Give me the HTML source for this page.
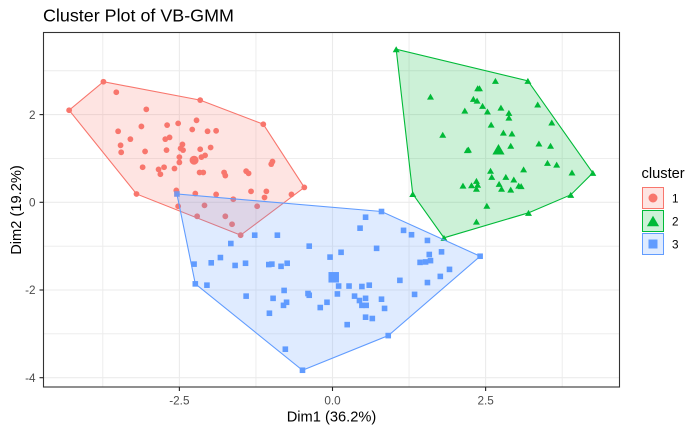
<!DOCTYPE html>
<html>
<head>
<meta charset="utf-8">
<title>Cluster Plot of VB-GMM</title>
<style>
html,body{margin:0;padding:0;background:#fff;}
svg{display:block;font-family:"Liberation Sans",sans-serif;}
</style>
</head>
<body>
<svg id="chart" width="700" height="432" viewBox="0 0 700 432" xmlns="http://www.w3.org/2000/svg">
  <rect x="0" y="0" width="700" height="432" fill="#ffffff"/>
  <text x="43" y="21.7" font-size="17.9" fill="#000">Cluster Plot of VB-GMM</text>
  <g id="grid"></g>
  <g id="points"></g>
  <g id="hulls"></g>
  <rect x="43.5" y="32.5" width="576" height="354.5" fill="none" stroke="#333333" stroke-width="1.1"/>
  <g id="axes"></g>
  <text x="331.5" y="421.5" font-size="14.67" text-anchor="middle" fill="#000">Dim1 (36.2%)</text>
  <text transform="translate(21,210) rotate(-90)" font-size="14.67" text-anchor="middle" fill="#000">Dim2 (19.2%)</text>
  <g id="legend">
    <text x="641.5" y="178" font-size="14.67" fill="#000">cluster</text>
  </g>
</svg>
<script>
const xTicks = [-2.5, 0, 2.5];
const xTickLabels = ['-2.5', '0.0', '2.5'];
const yTicks = [-4, -2, 0, 2];
const yTickLabels = ['-4', '-2', '0', '2'];
const xMinorTicks = [-3.75, -1.25, 1.25, 3.75];
const yMinorTicks = [-3, -1, 1, 3];
const clusterLabels = ['1', '2', '3'];
const clusterColors = ['#F8766D', '#00BA38', '#619CFF'];

const cluster1X = [-3.74,-2.16,-1.13,-0.46,-1.50,-3.20,-4.30,-3.53,-3.04,-3.50,-3.12,-2.70,-2.52,-2.22,-2.29,-2.04,-1.90,-3.30,-2.73,-2.66,-3.46,-3.45,-3.06,-2.71,-2.45,-2.48,-2.44,-2.16,-1.99,-2.50,-2.50,-2.14,-2.08,-3.10,-2.84,-2.75,-2.58,-2.81,-2.17,-2.11,-1.77,-1.75,-1.41,-1.37,-0.98,-1.00,-2.55,-2.24,-1.90,-1.33,-1.08,-1.11,-0.67,-1.62,-2.52,-2.09,-1.23,-2.21,-1.75,-1.64];
const cluster1Y = [2.75,2.33,1.78,0.34,-0.75,0.19,2.10,2.51,2.12,1.62,1.73,1.76,1.80,1.87,1.66,1.62,1.63,1.44,1.44,1.48,1.30,1.14,1.16,1.19,1.32,1.23,1.19,1.21,1.25,1.03,0.91,1.03,1.07,0.80,0.75,0.80,0.77,0.64,0.68,0.68,0.68,0.61,0.71,0.66,0.93,0.87,0.27,0.20,0.18,0.25,0.25,0.11,0.18,0.07,-0.09,-0.07,-0.09,-0.32,-0.32,-0.50];

const cluster2X = [1.04,3.19,4.25,3.89,3.20,1.82,1.31,2.66,2.37,2.40,1.60,2.30,2.36,2.45,2.75,3.35,2.16,2.53,2.88,2.88,3.58,2.59,1.80,2.79,2.93,3.37,3.56,2.91,2.20,2.22,3.51,3.66,3.12,2.58,3.91,2.60,2.83,2.96,2.35,2.72,2.13,2.27,2.37,3.04,3.08,2.35,2.76,2.91,2.52,2.35];
const cluster2Y = [3.49,2.77,0.67,0.17,-0.24,-0.81,0.19,2.77,2.60,2.60,2.41,2.36,2.32,2.20,2.16,2.23,2.09,2.07,2.04,1.93,1.82,1.77,1.54,1.59,1.57,1.34,1.29,1.29,1.19,1.20,0.90,0.86,0.75,0.72,0.68,0.58,0.58,0.52,0.49,0.42,0.38,0.39,0.40,0.38,0.37,0.31,0.31,0.29,-0.08,-0.44];

const cluster3X = [-2.54,0.80,2.41,0.91,-0.49,-2.24,0.54,0.45,1.16,1.29,1.55,-1.27,-0.90,-1.66,-0.38,0.72,0.14,-0.04,1.58,1.78,-1.83,-1.98,-2.26,-1.59,-1.42,-1.04,-0.99,-0.84,-0.74,1.43,1.52,1.60,1.91,1.76,1.10,1.55,-2.05,0.10,0.27,0.48,0.60,-0.79,-1.41,-0.40,-0.38,0.08,0.36,-0.97,0.54,0.80,1.34,0.44,-0.75,-0.09,-0.80,0.48,0.55,-0.20,0.85,-1.03,0.54,0.65,0.24,-0.77];
const cluster3Y = [0.19,-0.21,-1.23,-3.04,-3.83,-1.86,-0.34,-0.59,-0.64,-0.74,-0.87,-0.75,-0.75,-0.94,-1.00,-1.05,-1.14,-1.25,-1.19,-1.13,-1.26,-1.38,-1.41,-1.44,-1.39,-1.42,-1.41,-1.46,-1.39,-1.37,-1.36,-1.33,-1.53,-1.69,-1.78,-1.83,-1.89,-1.91,-1.91,-1.92,-1.89,-2.01,-2.14,-2.08,-2.12,-2.09,-2.14,-2.19,-2.19,-2.21,-2.10,-2.24,-2.28,-2.28,-2.35,-2.35,-2.35,-2.40,-2.42,-2.53,-2.62,-2.65,-2.79,-3.35];

const centroidX = [-2.26, 2.71, 0.02];
const centroidY = [0.96, 1.21, -1.71];

const NS = 'http://www.w3.org/2000/svg';
function sx(v) { return 332.5 + 61.25 * v; }
function sy(v) { return 202.3 - 43.85 * v; }
const PANEL = { left: 43.5, right: 619.5, top: 32.5, bottom: 387 };

function make(tag, attrs, parent) {
  const el = document.createElementNS(NS, tag);
  for (const k in attrs) el.setAttribute(k, attrs[k]);
  parent.appendChild(el);
  return el;
}

function hull(xs, ys) {
  const pts = xs.map((x, i) => [x, ys[i]]).sort((a, b) => a[0] - b[0] || a[1] - b[1]);
  const cross = (o, a, b) => (a[0] - o[0]) * (b[1] - o[1]) - (a[1] - o[1]) * (b[0] - o[0]);
  const lower = [];
  for (const p of pts) {
    while (lower.length >= 2 && cross(lower[lower.length - 2], lower[lower.length - 1], p) <= 0) lower.pop();
    lower.push(p);
  }
  const upper = [];
  for (let i = pts.length - 1; i >= 0; i--) {
    const p = pts[i];
    while (upper.length >= 2 && cross(upper[upper.length - 2], upper[upper.length - 1], p) <= 0) upper.pop();
    upper.push(p);
  }
  lower.pop();
  upper.pop();
  return lower.concat(upper);
}

function marker(parent, kind, cx, cy, size, color) {
  let el;
  if (kind === 0) {
    el = make('circle', { cx: cx, cy: cy, r: size / 2, fill: color }, parent);
  } else if (kind === 1) {
    const w = size * 1.16, h = size;
    el = make('polygon', {
      points: (cx - w / 2) + ',' + (cy + h / 2) + ' ' + (cx + w / 2) + ',' + (cy + h / 2) + ' ' + cx + ',' + (cy - h / 2),
      fill: color
    }, parent);
  } else {
    el = make('rect', { x: cx - size / 2, y: cy - size / 2, width: size, height: size, fill: color }, parent);
  }
  return el;
}

/* gridlines */
const gridG = document.getElementById('grid');
xMinorTicks.forEach(function (v) {
  const l = make('line', { x1: sx(v), x2: sx(v), y1: PANEL.top, y2: PANEL.bottom, stroke: '#EBEBEB', 'stroke-width': 0.9 }, gridG);
  
  
});
yMinorTicks.forEach(function (v) {
  const l = make('line', { x1: PANEL.left, x2: PANEL.right, y1: sy(v), y2: sy(v), stroke: '#EBEBEB', 'stroke-width': 0.9 }, gridG);
  
  
});
xTicks.forEach(function (v) {
  const l = make('line', { x1: sx(v), x2: sx(v), y1: PANEL.top, y2: PANEL.bottom, stroke: '#EBEBEB', 'stroke-width': 1.1 }, gridG);
  
  
});
yTicks.forEach(function (v) {
  const l = make('line', { x1: PANEL.left, x2: PANEL.right, y1: sy(v), y2: sy(v), stroke: '#EBEBEB', 'stroke-width': 1.1 }, gridG);
  
  
});

/* points, then hull polygons over them */
const seriesX = [cluster1X, cluster2X, cluster3X];
const seriesY = [cluster1Y, cluster2Y, cluster3Y];
const pointSize = [5.8, 6, 5.6];
const centroidSize = [9, 10.5, 10.5];
const pointsG = document.getElementById('points');
const hullsG = document.getElementById('hulls');

seriesX.forEach(function (xs, c) {
  xs.forEach(function (x, i) {
    const m = marker(pointsG, c, sx(x), sy(seriesY[c][i]), pointSize[c], clusterColors[c]);
    
    
  });
  const cm = marker(pointsG, c, sx(centroidX[c]), sy(centroidY[c]), centroidSize[c], clusterColors[c]);
  
  
});

seriesX.forEach(function (xs, c) {
  const h = hull(xs, seriesY[c]);
  const pts = h.map(function (p) { return sx(p[0]) + ',' + sy(p[1]); }).join(' ');
  const poly = make('polygon', {
    points: pts,
    fill: clusterColors[c],
    'fill-opacity': 0.2,
    stroke: clusterColors[c],
    'stroke-width': 1.1
  }, hullsG);
  
  
});

/* axes */
const axesG = document.getElementById('axes');
xTicks.forEach(function (v, i) {
  const t = make('line', { x1: sx(v), x2: sx(v), y1: PANEL.bottom, y2: PANEL.bottom + 4, stroke: '#222222', 'stroke-width': 1.1 }, axesG);
  
  
  const lb = make('text', { x: sx(v), y: 404.5, 'font-size': 11.73, 'text-anchor': 'middle', fill: '#4D4D4D' }, axesG);
  lb.textContent = xTickLabels[i];
  
  
});
yTicks.forEach(function (v, i) {
  const t = make('line', { x1: PANEL.left - 4, x2: PANEL.left, y1: sy(v), y2: sy(v), stroke: '#222222', 'stroke-width': 1.1 }, axesG);
  
  
  const lb = make('text', { x: 35.5, y: sy(v) + 4.2, 'font-size': 11.73, 'text-anchor': 'end', fill: '#4D4D4D' }, axesG);
  lb.textContent = yTickLabels[i];
  
  
});

/* legend */
const legendG = document.getElementById('legend');
clusterLabels.forEach(function (label, c) {
  const top = 187.5 + c * 23;
  const color = clusterColors[c];
  const key = make('rect', { x: 642.5, y: top, width: 21, height: 21, fill: color, 'fill-opacity': 0.2, stroke: color, 'stroke-width': 1 }, legendG);
  
  
  const m = marker(legendG, c, 653, top + 10.5, c === 1 ? 10.5 : 9, color);
  
  
  const tx = make('text', { x: 672, y: top + 14.8, 'font-size': 11.73, fill: '#000' }, legendG);
  tx.textContent = label;
  
  
});
</script>
</body>
</html>
